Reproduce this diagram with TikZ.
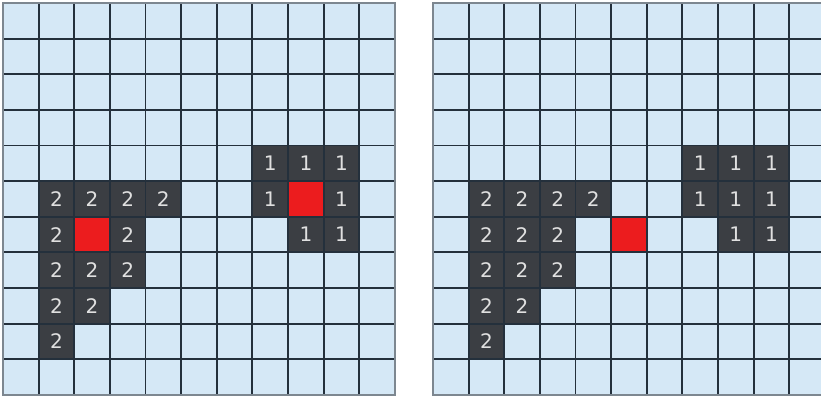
\documentclass[tikz,border=0pt]{standalone}
\usepackage{fontspec}
\setsansfont{DejaVu Sans}
\definecolor{cellblue}{HTML}{D5E8F6}
\definecolor{cellgray}{HTML}{3B3E43}
\definecolor{gridline}{HTML}{24303C}
\definecolor{rimgray}{HTML}{7D8790}
\definecolor{hotred}{HTML}{EC1C1E}
\tikzset{
  cnt/.style={rectangle, minimum size=1cm, inner sep=0pt, fill=cellgray,
    text=white!88!black, font=\sffamily\fontsize{16}{19}\selectfont},
  src/.style={rectangle, minimum size=1cm, inner sep=0pt, fill=hotred},
  lines/.style={gridline, line width=1.5pt},
  rim/.style={rimgray, line width=1pt}
}
\begin{document}
\begin{tikzpicture}[x=1cm, y=-1cm]
  \useasboundingbox (0,0) rectangle (23.04,11.11);
  % left board
  \begin{scope}[shift={(0.084,0.084)}]
    \fill[cellblue] (0,0) rectangle (11,11);
    \foreach \c/\r [count=\i] in {1/5,2/5,3/5,4/5,1/6,3/6,1/7,2/7,3/7,1/8,2/8,1/9}
      \node[cnt] (la\i) at (\c+0.5,\r+0.5) {2};
    \foreach \c/\r [count=\i] in {7/4,8/4,9/4,7/5,9/5,8/6,9/6}
      \node[cnt] (lb\i) at (\c+0.5,\r+0.5) {1};
    \node[src] (lsa) at (2.5,6.5) {};
    \node[src] (lsb) at (8.5,5.5) {};
    \foreach \k in {1,...,10} {
      \draw[lines] (\k,0) -- (\k,11);
      \draw[lines] (0,\k) -- (11,\k);
    }
    \draw[rim] (0,0) rectangle (11,11);
  \end{scope}
  % right board
  \begin{scope}
    \clip (12,0) rectangle (23.04,11.11);
    \begin{scope}[shift={(12.15,0.084)}]
      \fill[cellblue] (0,0) rectangle (11,11);
      \foreach \c/\r [count=\i] in {1/5,2/5,3/5,4/5,1/6,2/6,3/6,1/7,2/7,3/7,1/8,2/8,1/9}
        \node[cnt] (ra\i) at (\c+0.5,\r+0.5) {2};
      \foreach \c/\r [count=\i] in {7/4,8/4,9/4,7/5,8/5,9/5,8/6,9/6}
        \node[cnt] (rb\i) at (\c+0.5,\r+0.5) {1};
      \node[src] (rs) at (5.5,6.5) {};
      \foreach \k in {1,...,10} {
        \draw[lines] (\k,0) -- (\k,11);
        \draw[lines] (0,\k) -- (11,\k);
      }
      \draw[rim] (0,0) rectangle (11,11);
    \end{scope}
  \end{scope}
\end{tikzpicture}
\end{document}
